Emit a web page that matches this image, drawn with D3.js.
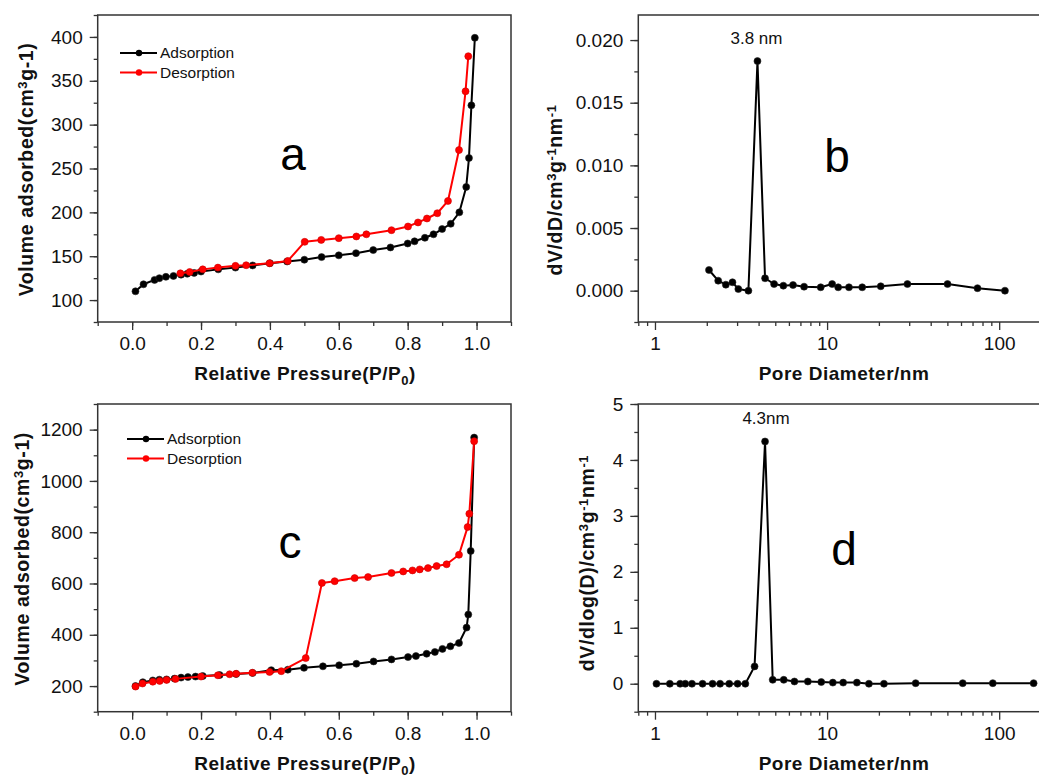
<!DOCTYPE html>
<html>
<head>
<meta charset="utf-8">
<script src="https://cdn.jsdelivr.net/npm/d3@7"></script>
<style>
  body { margin: 0; background: #fff; }
  svg { display: block; font-family: "Liberation Sans", Arial, sans-serif; }
</style>
</head>
<body>
<svg id="chart" width="1039" height="780"></svg>
<script>
// panel a - isotherm (sample 1)
const aAdsP = [0.0097, 0.033, 0.065, 0.079, 0.098, 0.12, 0.142, 0.16, 0.18, 0.2, 0.25, 0.3, 0.35, 0.4, 0.45, 0.5, 0.55, 0.6, 0.65, 0.7, 0.75, 0.8, 0.82, 0.85, 0.875, 0.9, 0.925, 0.95, 0.97, 0.978, 0.985, 0.995];
const aAdsV = [110, 118, 123, 125, 126.5, 127.5, 129, 130, 131, 132.5, 135, 137, 139.5, 142, 144, 146, 149, 151, 153.5, 157, 160, 164.5, 167, 171, 175, 181, 187, 200, 229, 262, 322, 399];
const aDesP = [0.14, 0.167, 0.205, 0.249, 0.3, 0.331, 0.399, 0.452, 0.501, 0.549, 0.6, 0.651, 0.68, 0.753, 0.801, 0.83, 0.856, 0.886, 0.917, 0.949, 0.968, 0.976];
const aDesV = [130.5, 132, 135, 137, 139, 139.7, 142, 144.6, 166.4, 168.6, 170.6, 172.5, 175, 179.7, 183.9, 188.5, 193, 199, 213, 271, 338, 378];

// panel c - isotherm (sample 2)
const cAdsP = [0.0097, 0.031, 0.06, 0.079, 0.1, 0.123, 0.142, 0.162, 0.184, 0.205, 0.254, 0.302, 0.35, 0.404, 0.452, 0.499, 0.554, 0.601, 0.651, 0.701, 0.753, 0.801, 0.824, 0.855, 0.879, 0.901, 0.924, 0.949, 0.971, 0.976, 0.983, 0.993];
const cAdsV = [200, 215, 222, 225, 226, 229, 233, 235, 237, 239, 243, 247, 251, 262, 264, 271, 277, 281, 287, 296, 304, 313, 317, 326, 333, 345, 355, 368, 428, 479, 727, 1169];
const cDesP = [0.01, 0.03, 0.06, 0.08, 0.1, 0.126, 0.2, 0.249, 0.283, 0.302, 0.349, 0.399, 0.433, 0.504, 0.551, 0.588, 0.646, 0.685, 0.753, 0.787, 0.814, 0.835, 0.859, 0.884, 0.913, 0.949, 0.974, 0.979, 0.993];
const cDesV = [198, 210, 217, 220, 224, 228, 237, 242, 246, 248, 252, 255, 258, 309, 602, 609, 621, 625, 641, 647, 651, 655, 660, 668, 675, 712, 820, 872, 1155];

// panel b - pore size distribution (sample 1)
const bD = [2.06, 2.33, 2.58, 2.82, 3.05, 3.49, 3.94, 4.36, 4.92, 5.57, 6.34, 7.35, 9.18, 10.7, 11.6, 13.4, 16.0, 20.5, 29.3, 50.1, 74.8, 108];
const bV = [0.00165, 0.0008, 0.00048, 0.00067, 0.00013, 0.0, 0.01832, 0.00099, 0.00053, 0.0004, 0.00045, 0.00032, 0.00027, 0.00053, 0.00027, 0.00027, 0.00027, 0.00035, 0.00053, 0.00053, 0.0002, 0.0];

// panel d - pore size distribution (sample 2)
const dD = [1.02, 1.22, 1.40, 1.50, 1.64, 1.89, 2.16, 2.39, 2.70, 3.02, 3.35, 3.79, 4.36, 4.83, 5.60, 6.46, 7.73, 9.25, 10.8, 12.4, 14.9, 17.5, 21.4, 32.7, 61.4, 91.8, 158.5];
const dV = [0, 0, 0, 0, 0, 0, 0, 0, 0, 0, 0, 0.31, 4.33, 0.07, 0.07, 0.04, 0.04, 0.03, 0.02, 0.02, 0.02, 0, 0, 0.01, 0.01, 0.01, 0.01];

// tick labels
const isoXTicks = [0, 0.2, 0.4, 0.6, 0.8, 1.0];
const aYTicks = [100, 150, 200, 250, 300, 350, 400];
const cYTicks = [200, 400, 600, 800, 1000, 1200];
const bYTicks = [0, 0.005, 0.010, 0.015, 0.020];
const dYTicks = [0, 1, 2, 3, 4, 5];
const logTicks = [1, 10, 100];

const svg = d3.select('#chart');
const FRAME = '#333';
const zip = (xs, ys) => xs.map((x, i) => [x, ys[i]]);

function frame(g, x, y) {
    const [x0, x1] = x.range(), [y0, y1] = y.range();
    g.append('rect')
        .attr('x', x0).attr('y', y1)
        .attr('width', x1 - x0).attr('height', y0 - y1)
        .attr('fill', 'none')
        .attr('stroke', FRAME)
        .attr('stroke-width', 1.5);
}

function styleAxis(ax) {
    ax.select('.domain').remove();
    ax.selectAll('line').attr('stroke', FRAME).attr('stroke-width', 1.3);
    ax.selectAll('text')
        .attr('fill', '#111')
        .style('font-size', '19px')
        .style('font-family', '"Liberation Sans", Arial, sans-serif');
}

function axes(g, x, y, xMajor, xMinor, yMajor, yMinor, xFmt, yFmt) {
    const bottom = y.range()[0], left = x.range()[0];
    g.append('g').attr('transform', `translate(0,${bottom})`)
        .call(d3.axisBottom(x).tickValues(xMinor).tickSize(4).tickFormat(''))
        .call(styleAxis);
    g.append('g').attr('transform', `translate(0,${bottom})`)
        .call(d3.axisBottom(x).tickValues(xMajor).tickSize(8).tickPadding(7).tickFormat(xFmt))
        .call(styleAxis);
    g.append('g').attr('transform', `translate(${left},0)`)
        .call(d3.axisLeft(y).tickValues(yMinor).tickSize(4).tickFormat(''))
        .call(styleAxis);
    g.append('g').attr('transform', `translate(${left},0)`)
        .call(d3.axisLeft(y).tickValues(yMajor).tickSize(8).tickPadding(7).tickFormat(yFmt))
        .call(styleAxis);
}

function series(g, x, y, pts, color) {
    g.append('path')
        .datum(pts)
        .attr('fill', 'none')
        .attr('stroke', color)
        .attr('stroke-width', 2)
        .attr('stroke-linejoin', 'round')
        .attr('d', d3.line().x(d => x(d[0])).y(d => y(d[1])));
    g.selectAll(null)
        .data(pts)
        .enter().append('circle')
        .attr('cx', d => x(d[0]))
        .attr('cy', d => y(d[1]))
        .attr('r', 3.5)
        .attr('fill', color)
        .attr('stroke', color === '#000' ? '#222' : '#c00')
        .attr('stroke-width', 0.6);
}

// rotated title with superscripts: parts = [[text, isSup], ...]
function yTitle(g, cx, cy, parts) {
    const t = g.append('text')
        .attr('transform', `translate(${cx},${cy}) rotate(-90)`)
        .attr('text-anchor', 'middle')
        .style('font-size', '19.5px')
        .style('font-weight', 'bold')
        .style('letter-spacing', '0.6px')
        .attr('fill', '#111');
    parts.forEach(([s, sup]) => {
        const sp = t.append('tspan').text(s);
        if (sup) sp.attr('baseline-shift', '45%').style('font-size', '13px');
    });
}

function legend(g, xb, yb) {
    const items = [{label: 'Adsorption', color: '#000'}, {label: 'Desorption', color: '#f00'}];
    const it = g.selectAll('.legend-item')
        .data(items)
        .enter().append('g')
        .attr('class', 'legend-item')
        .attr('transform', (d, i) => `translate(${xb}, ${yb + i * 19.5})`);
    it.append('line')
        .attr('x1', 0).attr('x2', 37)
        .attr('stroke', d => d.color).attr('stroke-width', 2);
    it.append('circle')
        .attr('cx', 19).attr('r', 3.2)
        .attr('fill', d => d.color);
    it.append('text')
        .attr('x', 40).attr('dy', '0.35em')
        .style('font-size', '15.5px')
        .attr('fill', '#111')
        .text(d => d.label);
}

function bigLetter(g, x, y, s) {
    g.append('text')
        .attr('x', x).attr('y', y)
        .attr('text-anchor', 'middle')
        .style('font-size', '46px')
        .attr('fill', '#000')
        .text(s);
}

function xTitle(g, cx, y, parts) {
    const t = g.append('text')
        .attr('x', cx).attr('y', y)
        .attr('text-anchor', 'middle')
        .style('font-size', '19px')
        .style('font-weight', 'bold')
        .style('letter-spacing', '0.5px')
        .attr('fill', '#111');
    parts.forEach(([s, sub]) => {
        const sp = t.append('tspan').text(s);
        if (sub) sp.attr('baseline-shift', '-35%').style('font-size', '13px');
    });
}

// ---------- isotherm panels ----------
function isotherm(top, bottom, yDom, yMajor, yMinorStep, ads, des, letter, lx, ly, legPos, titleX) {
    const g = svg.append('g');
    const x = d3.scaleLinear().domain([-0.1, 1.1]).range([97.7, 511]);
    const y = d3.scaleLinear().domain(yDom).range([bottom, top]);
    const xMinor = d3.range(-0.1, 1.1001, 0.1).map(v => +v.toFixed(2));
    const yMinor = d3.range(yDom[0], yDom[1] + 0.001, yMinorStep);
    axes(g, x, y, isoXTicks, xMinor, yMajor, yMinor, d3.format('.1f'), d3.format('d'));
    frame(g, x, y);
    series(g, x, y, ads, '#000');
    series(g, x, y, des, '#f00');
    legend(g, legPos[0], legPos[1]);
    bigLetter(g, lx, ly, letter);
    xTitle(g, 305, bottom + 58, [['Relative Pressure(P/P', false], ['0', true], [')', false]]);
    yTitle(g, titleX, (top + bottom) / 2 + 1,
        [['Volume adsorbed(cm', false], ['3', true], ['g-1)', false]]);
}

isotherm(15, 322, [75, 425], aYTicks, 25, zip(aAdsP, aAdsV), zip(aDesP, aDesV), 'a', 293, 170, [120, 53], 33);
isotherm(404, 711.7, [100, 1300], cYTicks, 100, zip(cAdsP, cAdsV), zip(cDesP, cDesV), 'c', 290, 558, [127, 439], 29);

// ---------- pore size panels ----------
function psd(top, bottom, yDom, yMajor, yMinorStep, yFmt, pts, letter, lx, ly, peakLbl, titleX, titleY, titleParts) {
    const g = svg.append('g');
    const x = d3.scaleLog().domain([0.8, 200]).range([638.3, 1051]);
    const y = d3.scaleLinear().domain(yDom).range([bottom, top]);
    const xMinor = x.ticks().filter(v => logTicks.indexOf(v) < 0);
    const yMinor = d3.range(0, 40).map(i => yDom[0] + i * yMinorStep).filter(v => v <= yDom[1] + 1e-9);
    axes(g, x, y, logTicks, xMinor, yMajor, yMinor, d3.format('d'), yFmt);
    frame(g, x, y);
    series(g, x, y, pts, '#000');
    bigLetter(g, lx, ly, letter);
    // peak annotation
    const peak = pts.reduce((a, b) => (b[1] > a[1] ? b : a));
    g.append('text')
        .attr('x', x(peak[0]) + peakLbl[1])
        .attr('y', y(peak[1]) - 17)
        .attr('text-anchor', 'middle')
        .style('font-size', '17px')
        .attr('fill', '#111')
        .text(peakLbl[0]);
    xTitle(g, 844, bottom + 58, [['Pore Diameter/nm', false]]);
    yTitle(g, titleX, titleY, titleParts);
}

psd(15, 322, [-0.0025, 0.022], bYTicks, 0.0025, d3.format('.3f'), zip(bD, bV), 'b', 837, 172,
    ['3.8 nm', -1], 562, 190,
    [['dV/dD/cm', false], ['3', true], ['g', false], ['-1', true], ['nm', false], ['-1', true]]);
psd(404, 711.7, [-0.5, 5], dYTicks, 0.5, d3.format('d'), zip(dD, dV), 'd', 844, 565,
    ['4.3nm', 1], 594, 563,
    [['dV/dlog(D)/cm', false], ['3', true], ['g', false], ['-1', true], ['nm', false], ['-1', true]]);
</script>
</body>
</html>
